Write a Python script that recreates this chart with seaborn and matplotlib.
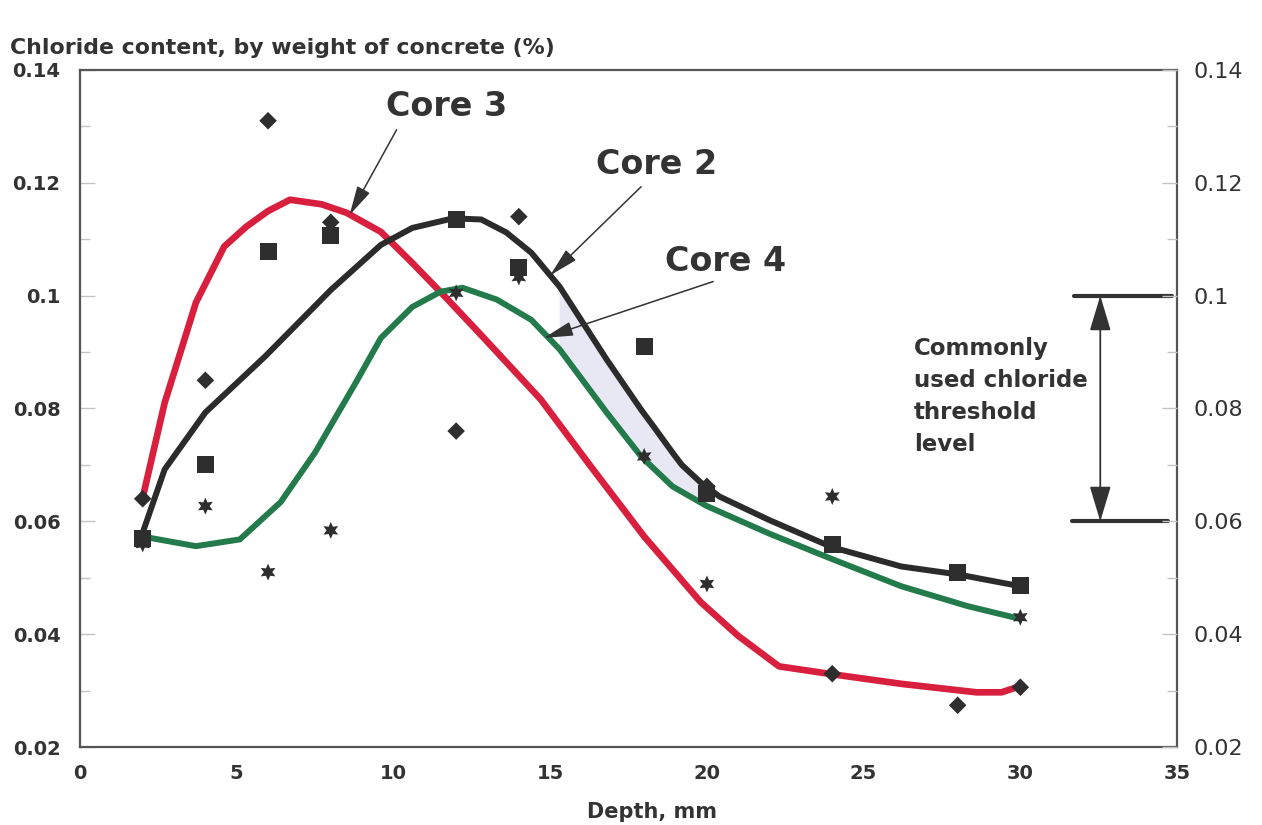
import numpy as np
import pandas as pd
import matplotlib
matplotlib.use('Agg')
import matplotlib.pyplot as plt
from matplotlib.ticker import MultipleLocator
import seaborn as sns

# === CURVES ===
core3_x = [2, 2.7, 3.2, 3.7, 4.6, 5.3, 6.0, 6.7, 7.7, 8.5, 9.6, 10.6, 11.7, 12.8,
           14.7, 16.3, 18.0, 19.8, 21, 22.3, 24, 26.2, 28.6, 29.4, 30]
core3_y = [0.0642, 0.081, 0.0899, 0.0988, 0.1087, 0.1122, 0.1150, 0.117, 0.1162,
           0.1147, 0.1113, 0.1058, 0.0995, 0.093, 0.0816, 0.0697, 0.0573, 0.0457,
           0.0397, 0.0343, 0.0329, 0.0312, 0.0297, 0.0297, 0.0308]

core2_x = [2, 2.7, 4, 5.9, 8, 9.6, 10.6, 11.9, 12.8, 13.6, 14.4, 15.3, 16.8, 17.9,
           18.3, 18.9, 19.2, 19.8, 20.4, 22, 24, 26.2, 28, 30]
core2_y = [0.058, 0.0692, 0.0793, 0.0892, 0.101, 0.1090, 0.1120, 0.1137, 0.1135,
           0.1112, 0.1076, 0.1016, 0.0887, 0.0798, 0.0768, 0.0722, 0.0700, 0.0669,
           0.0644, 0.0602, 0.0554, 0.052, 0.0506, 0.0485]

core4_x = [2, 3.7, 5.1, 6.4, 7.5, 8.8, 9.6, 10.6, 11.5, 12.2, 13.3, 14.4, 15.3,
           16.8, 17.9, 18.9, 20.0, 22, 24, 26.2, 28.3, 30]
core4_y = [0.0573, 0.0556, 0.0568, 0.0634, 0.0722, 0.0846, 0.0925, 0.098, 0.1007,
           0.1014, 0.0993, 0.0957, 0.0905, 0.0793, 0.0715, 0.0662, 0.0627, 0.0578,
           0.0533, 0.0485, 0.045, 0.0427]

# === MEASURED POINTS ===
square_x = [2, 4, 6, 8, 12, 14, 18, 20, 24, 28, 30]
square_y = [0.057, 0.070, 0.1078, 0.1106, 0.1135, 0.105, 0.091, 0.065, 0.0559, 0.051, 0.0487]

diamond_x = [2, 4, 6, 8, 12, 14, 20, 24, 28, 30]
diamond_y = [0.064, 0.085, 0.131, 0.113, 0.076, 0.114, 0.0662, 0.033, 0.0274, 0.0306]

star_x = [2, 4, 6, 8, 12, 14, 18, 20, 24, 30]
star_y = [0.056, 0.0627, 0.051, 0.0584, 0.1005, 0.1033, 0.0715, 0.0489, 0.0644, 0.043]

ytick_vals = [0.02, 0.04, 0.06, 0.08, 0.1, 0.12, 0.14]
ytick_labels = ['0.02', '0.04', '0.06', '0.08', '0.1', '0.12', '0.14']
xtick_vals = [0, 5, 10, 15, 20, 25, 30, 35]

threshold_low = 0.06
threshold_high = 0.1

RED = '#d81f3d'
BLACK = '#2b2b2b'
GREEN = '#237a4b'
MARK = '#2e2e2e'
TXT = '#333333'

sns.set_theme(style='white')
plt.rcParams['font.family'] = ['DejaVu Sans']

fig = plt.figure(figsize=(12.62, 8.25), dpi=100)
ax = fig.add_axes([0.0634, 0.0945, 0.8693, 0.8207])

# light band between core 2 and core 4
bx = np.array(core2_x); by = np.array(core2_y)
gx = np.array(core4_x); gy = np.array(core4_y)
mb = (bx >= 15.3) & (bx <= 19.8)
mg = (gx >= 15.3) & (gx <= 20.0)
ax.fill(np.r_[bx[mb], gx[mg][::-1]], np.r_[by[mb], gy[mg][::-1]],
        color='#e8e8f4', lw=0, zorder=1)

curves = pd.concat([
    pd.DataFrame({'x': core3_x, 'y': core3_y, 'core': 'Core 3'}),
    pd.DataFrame({'x': core2_x, 'y': core2_y, 'core': 'Core 2'}),
    pd.DataFrame({'x': core4_x, 'y': core4_y, 'core': 'Core 4'}),
])
sns.lineplot(data=curves, x='x', y='y', hue='core', estimator=None, sort=False,
             palette={'Core 3': RED, 'Core 2': BLACK, 'Core 4': GREEN},
             linewidth=4.3, legend=False, ax=ax, zorder=2)
for line in ax.get_lines():
    line.set_solid_capstyle('butt')
    line.set_solid_joinstyle('round')
    if line.get_color() == RED:
        line.set_linewidth(4.8)

sns.scatterplot(x=square_x, y=square_y, marker='s', s=150, color=MARK,
                edgecolor='none', ax=ax, zorder=3)
sns.scatterplot(x=diamond_x, y=diamond_y, marker='D', s=80, color=MARK,
                edgecolor='none', ax=ax, zorder=3)
sns.scatterplot(x=star_x, y=star_y, marker=(6, 1, 0), s=150, color=MARK,
                edgecolor='none', ax=ax, zorder=3)

# curve labels with arrows
arrow = dict(arrowstyle='-|>,head_length=0.9,head_width=0.22', color=TXT,
             lw=1.1, mutation_scale=20, shrinkA=0, shrinkB=0)
ax.text(11.7, 0.1335, 'Core 3', fontsize=24, fontweight='bold', color=TXT,
        ha='center', va='center')
ax.annotate('', xy=(8.6, 0.1143), xytext=(10.1, 0.1294), arrowprops=arrow)
ax.text(18.4, 0.1232, 'Core 2', fontsize=24, fontweight='bold', color=TXT,
        ha='center', va='center')
ax.annotate('', xy=(15.0, 0.1036), xytext=(17.9, 0.1193), arrowprops=arrow)
ax.text(20.6, 0.106, 'Core 4', fontsize=24, fontweight='bold', color=TXT,
        ha='center', va='center')
ax.annotate('', xy=(14.8, 0.0925), xytext=(20.2, 0.1025), arrowprops=arrow)

# threshold range marker
ax.plot([31.7, 34.85], [threshold_high, threshold_high], color=TXT, lw=3, zorder=3)
ax.plot([31.65, 34.7], [threshold_low, threshold_low], color=TXT, lw=3, zorder=3)
ax.annotate('', xy=(32.55, threshold_high), xytext=(32.55, threshold_low),
            arrowprops=dict(arrowstyle='<|-|>,head_length=1.1,head_width=0.33',
                            color=TXT, lw=1.3, mutation_scale=20,
                            shrinkA=0, shrinkB=0))
ax.text(26.6, 0.0927, 'Commonly\nused chloride\nthreshold\nlevel', fontsize=16.5,
        fontweight='bold', color=TXT, ha='left', va='top', linespacing=1.5)

# axes styling
ax.set_xlim(0, 35)
ax.set_ylim(0.02, 0.14)
ax.set_xticks(xtick_vals)
ax.set_xticklabels([str(v) for v in xtick_vals], fontsize=14, fontweight='bold', color=TXT)
ax.xaxis.set_minor_locator(MultipleLocator(2.5))
ax.set_yticks(ytick_vals)
ax.set_yticklabels(ytick_labels, fontsize=14, fontweight='bold', color=TXT)
ax.yaxis.set_minor_locator(MultipleLocator(0.01))
ax.tick_params(which='both', direction='in', color='#c4c4c4', width=1)
ax.tick_params(which='major', length=11)
ax.tick_params(which='minor', length=7)
ax.tick_params(axis='y', which='major', pad=14)
ax.tick_params(axis='x', which='major', pad=12)
ax.set_xlabel('')
ax.set_ylabel('')
for sp in ax.spines.values():
    sp.set_visible(True)
    sp.set_color('#555555')
    sp.set_linewidth(1.6)

ax2 = ax.twinx()
ax2.set_ylim(0.02, 0.14)
ax2.set_yticks(ytick_vals)
ax2.set_yticklabels(ytick_labels, fontsize=16, color=TXT)
ax2.yaxis.set_minor_locator(MultipleLocator(0.01))
ax2.tick_params(which='both', direction='in', color='#c4c4c4', width=1)
ax2.tick_params(which='major', length=11, pad=12)
ax2.tick_params(which='minor', length=7)
ax2.grid(False)
for sp in ax2.spines.values():
    sp.set_visible(False)

fig.text(0.008, 0.942, 'Chloride content, by weight of concrete (%)', fontsize=15.8,
         fontweight='bold', color=TXT, ha='left', va='center')
fig.text(0.5166, 0.0158, 'Depth, mm', fontsize=15, fontweight='bold', color=TXT,
         ha='center', va='center')

fig.savefig('out.png', dpi=100, facecolor='white')
